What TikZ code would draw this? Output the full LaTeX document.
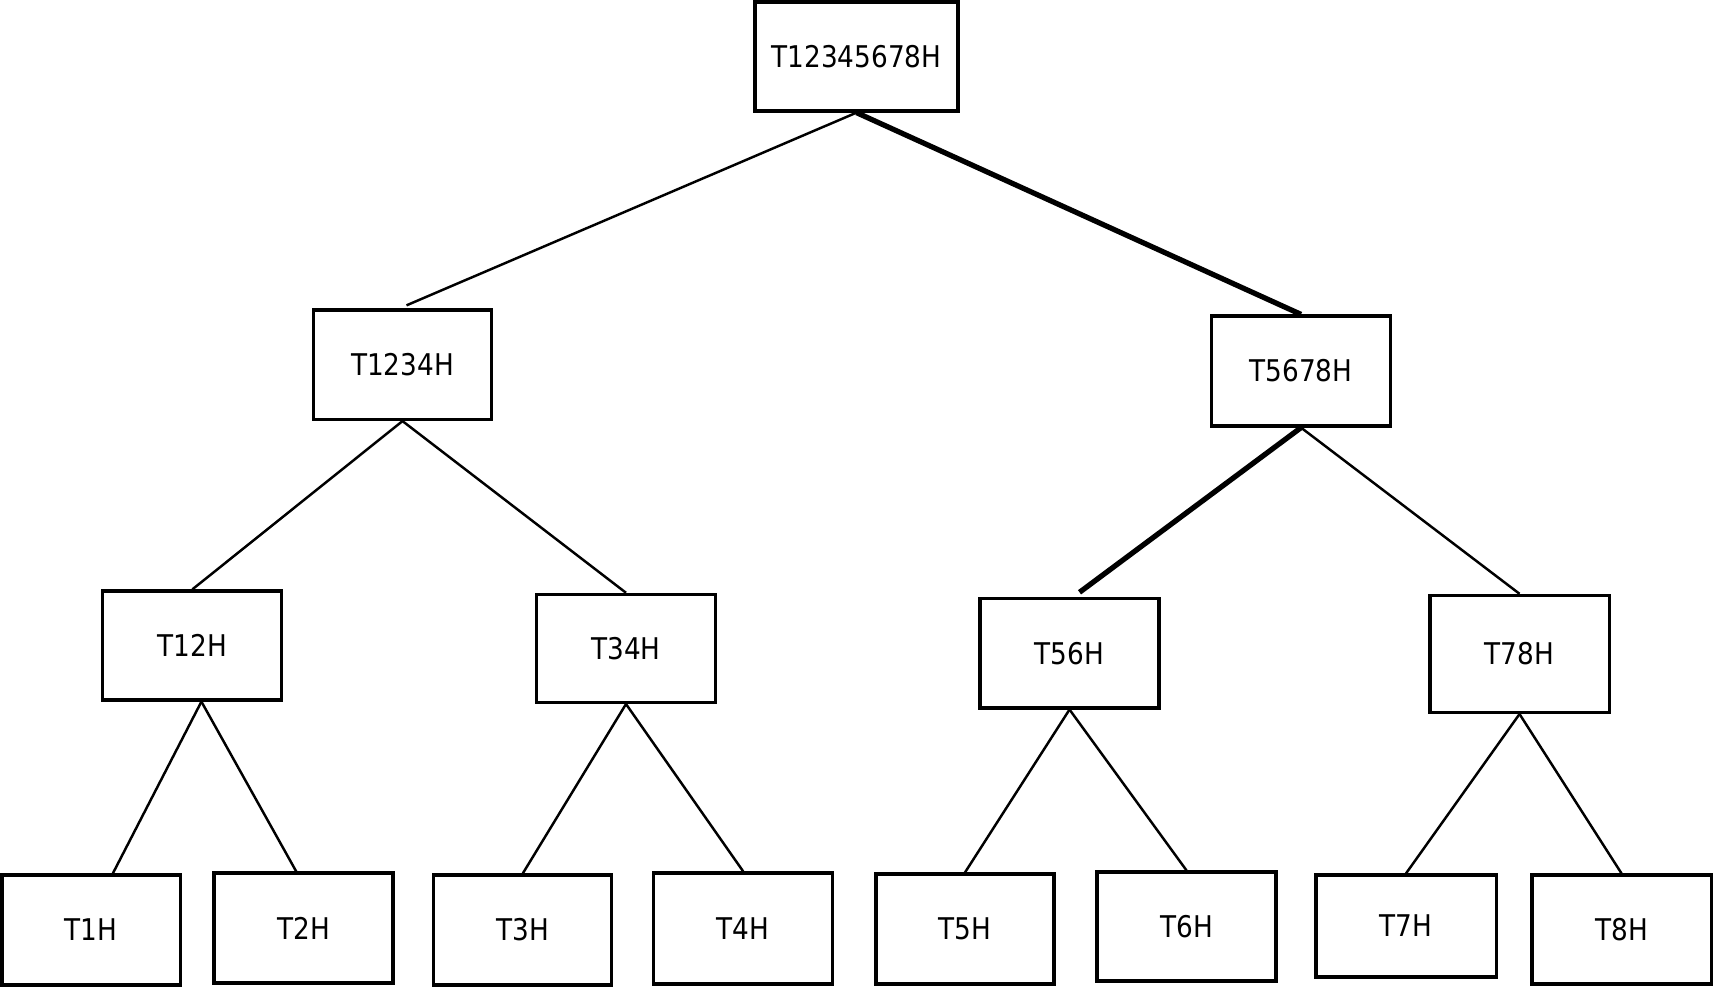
\documentclass[tikz,border=0pt]{standalone}
\usepackage{fontspec}
\setmainfont{DejaVu Sans}[FakeStretch=0.88]
\usetikzlibrary{calc}
\begin{document}
\begin{tikzpicture}[x=0.01cm,y=-0.01cm,
  bx/.style 2 args={draw=black, line width=0.9pt, minimum width=#1, minimum height=#2, inner sep=0pt, font=\fontsize{8.5pt}{10pt}\selectfont},
  edge/.style={line width=0.7pt},
  thickedge/.style={line width=1.5pt}]
\useasboundingbox (0,0) rectangle (1713,990);
\node[bx={2.03cm}{1.09cm}] (root) at (856.5,56.5) {T12345678H};
\node[bx={1.78cm}{1.095cm}] (T1234H) at (402.5,364.7) {T1234H};
\node[bx={1.79cm}{1.10cm}] (T5678H) at (1301,371) {T5678H};
\node[bx={1.79cm}{1.09cm}] (T12H) at (192.3,645.5) {T12H};
\node[bx={1.79cm}{1.08cm}] (T34H) at (626,648.4) {T34H};
\node[bx={1.79cm}{1.09cm}] (T56H) at (1069.5,653.4) {T56H};
\node[bx={1.79cm}{1.17cm}] (T78H) at (1519.5,653.9) {T78H};
\node[bx={1.78cm}{1.10cm}] (T1H) at (91.1,930) {T1H};
\node[bx={1.79cm}{1.10cm}] (T2H) at (303.5,928) {T2H};
\node[bx={1.78cm}{1.10cm}] (T3H) at (522.8,930) {T3H};
\node[bx={1.785cm}{1.11cm}] (T4H) at (743.2,928.5) {T4H};
\node[bx={1.78cm}{1.10cm}] (T5H) at (965,929) {T5H};
\node[bx={1.79cm}{1.09cm}] (T6H) at (1186.5,926.5) {T6H};
\node[bx={1.80cm}{1.02cm}] (T7H) at (1406,926) {T7H};
\node[bx={1.79cm}{1.09cm}] (T8H) at (1621.5,929.5) {T8H};
% edges
\draw[edge] (root.south) -- ($(T1234H.north)+(4,-3)$);
\draw[thickedge] (root.south) -- (T5678H.north);
\draw[edge] (T1234H.south) -- (T12H.north);
\draw[edge] (T1234H.south) -- (T34H.north);
\draw[thickedge] (T5678H.south) -- ($(T56H.north west)!0.555!(T56H.north east)+(0,-5)$);
\draw[edge] (T5678H.south) -- (T78H.north);
\draw[edge] ($(T12H.south west)!0.55!(T12H.south east)$) -- ($(T1H.north west)!0.62!(T1H.north east)$);
\draw[edge] ($(T12H.south west)!0.55!(T12H.south east)$) -- ($(T2H.north west)!0.46!(T2H.north east)$);
\draw[edge] (T34H.south) -- (T3H.north);
\draw[edge] (T34H.south) -- (T4H.north);
\draw[edge] (T56H.south) -- (T5H.north);
\draw[edge] (T56H.south) -- (T6H.north);
\draw[edge] (T78H.south) -- (T7H.north);
\draw[edge] (T78H.south) -- (T8H.north);
\end{tikzpicture}
\end{document}
